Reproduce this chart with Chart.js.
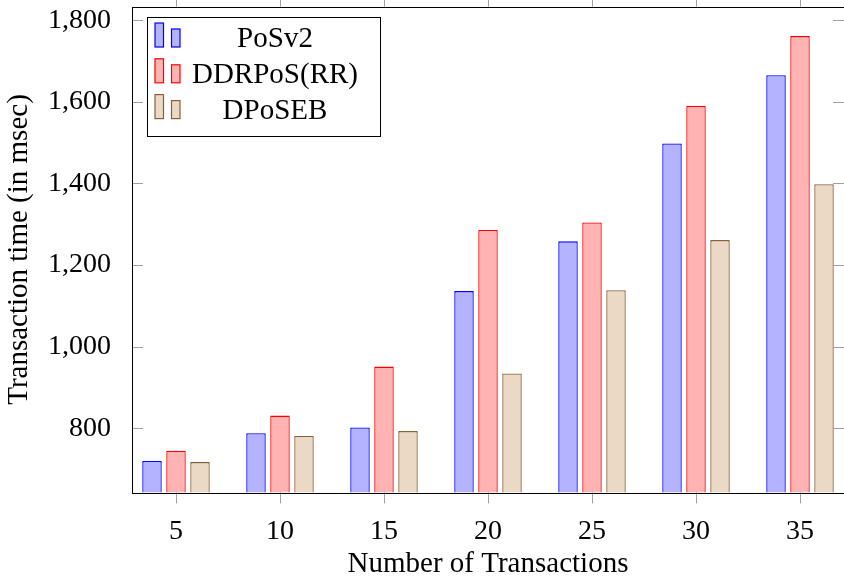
<!DOCTYPE html>
<html>
<head>
<meta charset="utf-8">
<script src="https://cdn.jsdelivr.net/npm/chart.js@4.4.1/dist/chart.umd.min.js"></script>
<style>
  html, body { margin: 0; padding: 0; background: #fff; }
  #wrap { width: 844px; height: 579px; }
</style>
</head>
<body>
<div id="wrap"><canvas id="bar-chart" width="844" height="579"></canvas></div>
<script>
const transactions = [5, 10, 15, 20, 25, 30, 35];
const posv2 = [720, 788, 802, 1136, 1258, 1498, 1665];
const ddrpos = [745, 831, 951, 1286, 1304, 1590, 1761];
const dposeb = [717, 781, 793, 934, 1138, 1261, 1398];
const yTicks = [800, 1000, 1200, 1400, 1600, 1800];

const serif = "'Liberation Serif', 'Times New Roman', serif";

const toPoints = vals => transactions.map((x, i) => ({ x: x, y: vals[i] }));

// pgfplots-like box and tick marks
const framePlugin = {
    id: 'frame',
    afterDatasetsDraw(chart) {
        const { ctx, chartArea: a, scales: { x, y } } = chart;
        ctx.save();
        ctx.strokeStyle = '#a0a0a0';
        ctx.lineWidth = 1;
        ctx.beginPath();
        transactions.forEach(t => {
            const px = Math.round(x.getPixelForValue(t)) + 0.5;
            ctx.moveTo(px, a.bottom); ctx.lineTo(px, a.bottom + 11);
            ctx.moveTo(px, a.top); ctx.lineTo(px, a.top - 11);
        });
        yTicks.forEach(v => {
            const py = Math.round(y.getPixelForValue(v)) + 0.5;
            ctx.moveTo(a.left, py); ctx.lineTo(a.left + 11, py);
            ctx.moveTo(a.right, py); ctx.lineTo(a.right - 11, py);
        });
        ctx.stroke();
        ctx.strokeStyle = '#000';
        ctx.strokeRect(Math.round(a.left) + 0.5, Math.round(a.top) + 0.5,
            Math.round(a.right - a.left), Math.round(a.bottom - a.top));
        ctx.restore();
    }
};

// legend with the two little bars per entry, like pgfplots ybar legend
const legendPlugin = {
    id: 'texLegend',
    afterDraw(chart) {
        const { ctx, chartArea: a } = chart;
        const bx = Math.round(a.left) + 15, by = Math.round(a.top) + 10;
        const bw = 233, bh = 119;
        ctx.save();
        ctx.fillStyle = '#fff';
        ctx.fillRect(bx, by, bw, bh);
        ctx.strokeStyle = '#000';
        ctx.lineWidth = 1;
        ctx.strokeRect(bx + 0.5, by + 0.5, bw, bh);
        ctx.font = '29px ' + serif;
        ctx.textAlign = 'center';
        ctx.textBaseline = 'alphabetic';
        chart.data.datasets.forEach((ds, i) => {
            const base = by + 30 + i * 35.8;
            ctx.fillStyle = ds.backgroundColor;
            ctx.strokeStyle = ds.borderColor;
            ctx.lineWidth = 1.2;
            ctx.fillRect(bx + 8, base - 24, 8.5, 24);
            ctx.strokeRect(bx + 8, base - 24, 8.5, 24);
            ctx.fillRect(bx + 24.5, base - 18, 8.5, 18);
            ctx.strokeRect(bx + 24.5, base - 18, 8.5, 18);
            ctx.fillStyle = '#000';
            ctx.fillText(ds.label, bx + 128, base);
        });
        ctx.restore();
    }
};

new Chart(document.getElementById('bar-chart'), {
    type: 'bar',
    data: {
        datasets: [
            {
                label: 'PoSv2',
                data: toPoints(posv2),
                backgroundColor: 'rgb(179,179,255)',
                borderColor: 'rgb(0,0,255)',
                borderWidth: 1.3,
            },
            {
                label: 'DDRPoS(RR)',
                data: toPoints(ddrpos),
                backgroundColor: 'rgb(255,179,179)',
                borderColor: 'rgb(255,0,0)',
                borderWidth: 1.3,
            },
            {
                label: 'DPoSEB',
                data: toPoints(dposeb),
                backgroundColor: 'rgb(235,217,198)',
                borderColor: 'rgb(135,97,58)',
                borderWidth: 1.3,
            },
        ],
    },
    options: {
        responsive: false,
        animation: false,
        devicePixelRatio: 1,
        datasets: {
            bar: { categoryPercentage: 0.6923, barPercentage: 0.8125, borderSkipped: false },
        },
        layout: { padding: { top: 6.7, left: 0, right: 0, bottom: 0 } },
        plugins: { legend: { display: false }, tooltip: { enabled: false } },
        scales: {
            x: {
                type: 'linear',
                offset: false,
                min: 2.885,
                max: 37.115,
                grid: { display: false },
                border: { display: false },
                afterBuildTicks: s => { s.ticks = transactions.map(v => ({ value: v })); },
                afterFit: s => { s.height = 86.7; s.paddingLeft = 0; s.paddingRight = 0; },
                ticks: {
                    color: '#000',
                    padding: 15,
                    font: { family: serif, size: 28 },
                    callback: v => String(v),
                },
                title: {
                    display: true,
                    text: 'Number of Transactions',
                    color: '#000',
                    font: { family: serif, size: 29, lineHeight: 1 },
                    padding: { top: 0, bottom: 0.3 },
                },
            },
            y: {
                min: 643,
                max: 1833,
                grid: { display: false },
                border: { display: false },
                afterBuildTicks: s => { s.ticks = yTicks.map(v => ({ value: v })); },
                afterFit: s => { s.width = 132; s.paddingTop = 0; s.paddingBottom = 0; },
                ticks: {
                    color: '#000',
                    padding: 13,
                    font: { family: serif, size: 28 },
                    callback: v => v.toLocaleString('en-US'),
                },
                title: {
                    display: true,
                    text: 'Transaction time (in msec)',
                    color: '#000',
                    font: { family: serif, size: 29, lineHeight: 1 },
                    padding: { top: 4.7, bottom: 0 },
                },
            },
        },
    },
    plugins: [framePlugin, legendPlugin],
});
</script>
</body>
</html>
